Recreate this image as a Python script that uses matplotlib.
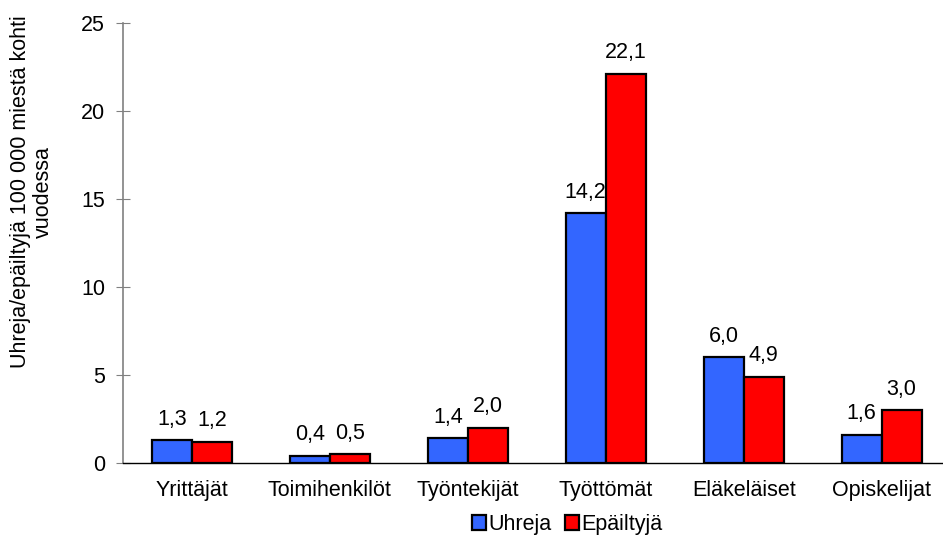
import matplotlib.pyplot as plt
import numpy as np

categories = ['Yrittäjät', 'Toimihenkilöt', 'Työntekijät', 'Työttömät',
              'Eläkeläiset', 'Opiskelijat']
uhreja = [1.3, 0.4, 1.4, 14.2, 6.0, 1.6]
epailtyja = [1.2, 0.5, 2.0, 22.1, 4.9, 3.0]
yticks = [0, 5, 10, 15, 20, 25]

plt.rcParams['font.family'] = ['Liberation Sans', 'DejaVu Sans']
fs = 15.5

fig = plt.figure(figsize=(9.43, 5.35), dpi=100)
ax = fig.add_axes([0.1304, 0.1346, 0.8776, 0.8224])

x = np.arange(len(categories))
w = 0.29
b1 = ax.bar(x - w / 2, uhreja, w, color='#3366ff', edgecolor='black', linewidth=1.6,
            label='Uhreja')
b2 = ax.bar(x + w / 2, epailtyja, w, color='#ff0000', edgecolor='black', linewidth=1.6,
            label='Epäiltyjä')

for bars, vals in ((b1, uhreja), (b2, epailtyja)):
    for r, v in zip(bars, vals):
        ax.text(r.get_x() + r.get_width() / 2, v + 0.6, f'{v:.1f}'.replace('.', ','),
                ha='center', va='bottom', fontsize=fs)

ax.set_xlim(-0.5, len(categories) - 0.5)
ax.set_ylim(0, 25)
ax.set_yticks(yticks)
ax.set_xticks(x)
ax.set_xticklabels(categories, fontsize=fs)
ax.tick_params(axis='y', labelsize=fs, direction='inout', length=10, color='#808080', pad=8)
ax.tick_params(axis='x', length=0, pad=12)

for s in ['top', 'right']:
    ax.spines[s].set_visible(False)
ax.spines['left'].set_color('#808080')
ax.spines['left'].set_linewidth(1.2)
ax.spines['bottom'].set_color('black')
ax.spines['bottom'].set_linewidth(1.0)

fig.text(32 / 943, 1 - 192 / 535, 'Uhreja/epäiltyjä 100 000 miestä kohti\nvuodessa',
         rotation=90, ha='center', va='center', fontsize=fs, linespacing=1.1,
         multialignment='center')

leg = ax.legend(loc='center', bbox_to_anchor=(0.537, -0.14), ncol=2, frameon=False,
                fontsize=fs, handlelength=0.65, handleheight=0.65, handletextpad=0.12,
                columnspacing=0.6, borderaxespad=0)

fig.savefig('out.png', dpi=100)
